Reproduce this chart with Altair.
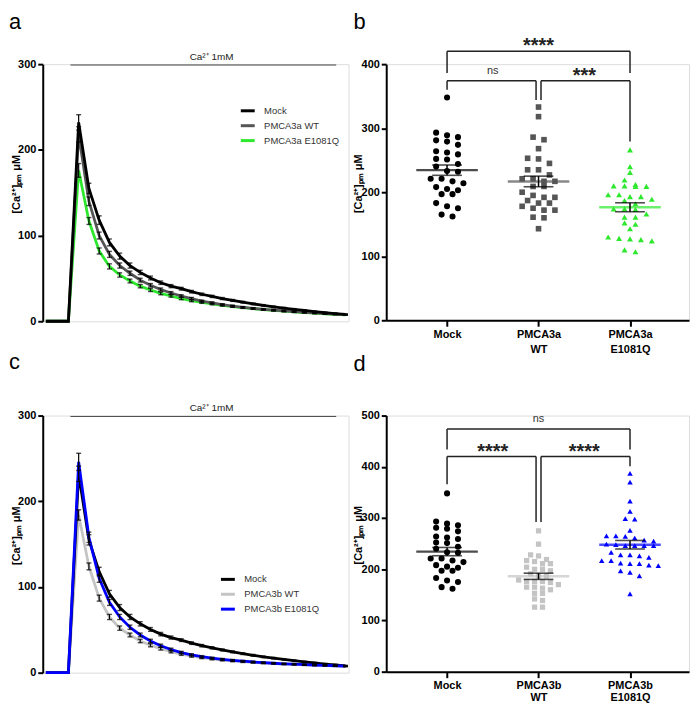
import altair as alt
import pandas as pd

FONT = "Liberation Sans"

# ---------------- time-course data (panels a, c) ----------------
TIME = [-3.2, -1, 0, 1, 2, 3, 4, 5, 6, 7, 8, 9, 10, 11, 12, 13, 14, 15, 16,
        17, 18, 19, 20, 21, 22, 23, 24, 25, 26]

MOCK_TRACE = [0, 0, 232, 155, 118, 92, 76, 65, 57, 50.5, 45, 41, 38, 34.5, 31.5,
              29, 26.5, 24.3, 22.2, 20.3, 18.5, 16.9, 15.4, 14, 12.6, 11.3, 10.1, 9, 8]
MOCK_SEM = [None, None, 9, 6, 5, 4, 3.5, 3, 2.5, 2.2, 2, 1.8, 1.6, 1.5, 1.4, 1.3,
            1.2, 1.1, 1, 1, 0.9, 0.9, 0.8, 0.8, 0.8, 0.7, 0.7, 0.7, 0.6]

WT3A_TRACE = [0, 0, 218, 140, 100, 78, 65, 56, 48, 42, 37, 33, 29.5, 26.5, 23.5,
              21.5, 19.5, 17.8, 16.3, 15, 14, 13, 12.1, 11.2, 10.4, 9.7, 9, 8.4, 7.8]
WT3A_SEM = [None, None, 9, 5, 4, 3.5, 3, 2.5, 2.2, 2, 1.8, 1.6, 1.4, 1.3, 1.2, 1.1,
            1, 1, 0.9, 0.9, 0.8, 0.8, 0.7, 0.7, 0.7, 0.6, 0.6, 0.6, 0.5]

E3A_TRACE = [0, 0, 176, 117, 82, 64, 54, 47, 41, 36.5, 32.5, 29.5, 26.5, 24, 22,
             20.2, 18.6, 17.2, 15.9, 14.7, 13.6, 12.6, 11.7, 10.9, 10.1, 9.4, 8.7, 8.1, 7.5]
E3A_SEM = [None, None, 8, 4, 3.5, 3, 2.5, 2.2, 2, 1.8, 1.6, 1.4, 1.3, 1.2, 1.1, 1,
           1, 0.9, 0.9, 0.8, 0.8, 0.7, 0.7, 0.7, 0.6, 0.6, 0.6, 0.5, 0.5]

WT3B_TRACE = [0, 0, 184, 124, 87, 65, 52, 44, 37, 32, 28, 24.5, 21.5, 19.3, 17.5,
              16, 14.8, 13.7, 12.8, 12, 11.3, 10.7, 10.1, 9.6, 9.1, 8.7, 8.3, 7.9, 7.5]
WT3B_SEM = [None, None, 6, 4, 3.5, 3, 2.5, 2.2, 2, 1.8, 1.6, 1.4, 1.3, 1.2, 1.1, 1,
            1, 0.9, 0.9, 0.8, 0.8, 0.7, 0.7, 0.7, 0.6, 0.6, 0.6, 0.5, 0.5]

E3B_TRACE = [0, 0, 246, 158, 110, 82, 65, 53, 44, 37, 31.5, 27, 23.5, 20.8, 18.7,
             17, 15.6, 14.4, 13.4, 12.5, 11.7, 11, 10.4, 9.9, 9.4, 8.9, 8.5, 8.1, 7.7]
E3B_SEM = [None, None, 10, 6, 4.5, 3.5, 3, 2.5, 2.2, 2, 1.8, 1.6, 1.4, 1.3, 1.2,
           1.1, 1, 1, 0.9, 0.9, 0.8, 0.8, 0.7, 0.7, 0.7, 0.6, 0.6, 0.6, 0.5]

NAMES_A = ["Mock", "PMCA3a WT", "PMCA3a E1081Q"]
NAMES_C = ["Mock", "PMCA3b WT", "PMCA3b E1081Q"]
COLORS_A = ["#000000", "#555555", "#2ee82e"]
COLORS_C = ["#000000", "#c4c4c4", "#0000ff"]

CA_LABEL = "Ca²⁺ 1mM"
CA_START, CA_END, CA_LEVEL = -0.8, 25.1, 299

Y_TITLE = "[Ca²⁺]ₚₘ μM"

# ---------------- scatter data (panels b, d) ----------------
CATS_B = ["Mock", "PMCA3a|WT", "PMCA3a|E1081Q"]
CATS_D = ["Mock", "PMCA3b|WT", "PMCA3b|E1081Q"]

MOCK_PTS = [348, 293, 289, 286, 281, 279, 274, 264, 262, 259, 252, 251, 244, 240,
            233, 232, 221, 221, 217, 214, 208, 205, 203, 197, 197, 183, 178, 175,
            165, 162]
WT3A_PTS = [333, 318, 286, 282, 268, 253, 252, 245, 235, 235, 227, 221, 221, 217,
            217, 209, 209, 200, 195, 192, 192, 187, 183, 183, 178, 175, 172, 172,
            161, 160, 143]
E3A_PTS = [266, 240, 231, 219, 212, 210, 210, 209, 209, 196, 196, 193, 193, 189,
           187, 182, 174, 174, 173, 166, 161, 161, 152, 150, 143, 130, 128, 127,
           126, 124, 110, 107]
WT3B_PTS = [275, 249, 228, 226, 219, 217, 215, 211, 211, 204, 200, 200, 197, 191,
            187, 187, 179, 176, 176, 176, 174, 170, 165, 165, 163, 160, 153, 153,
            142, 139, 126, 126]
E3B_PTS = [387, 370, 333, 313, 299, 298, 276, 265, 265, 264, 261, 257, 255, 249,
           248, 246, 246, 246, 246, 233, 228, 228, 226, 223, 217, 217, 212, 211,
           211, 208, 207, 197, 194, 187, 152]

# significance brackets: (x, x2, y, y2) in category units / data values
BRACKETS_B = [
    (0, 2, 420, 420), (0, 0, 420, 386), (2, 2, 420, 386),
    (0, 0.973, 374, 374), (0, 0, 374, 360), (0.973, 0.973, 374, 344),
    (1.027, 2, 374, 374), (1.027, 1.027, 374, 344), (2, 2, 374, 279),
]
STARS_B = [(1, 420, "****"), (1.5, 374, "***")]
NS_B = [(0.5, 374, "ns")]

BRACKETS_D = [
    (0, 2, 474, 474), (0, 0, 474, 434), (2, 2, 474, 434),
    (0, 0.973, 420, 420), (0, 0, 420, 366), (0.973, 0.973, 420, 292),
    (1.027, 2, 420, 420), (1.027, 1.027, 420, 292), (2, 2, 420, 401),
]
STARS_D = [(0.5, 420, "****"), (1.5, 420, "****")]
NS_D = [(1, 474, "ns")]

# ---------------- layout constants ----------------
TW, TH = 308, 259       # trace panels
SW, SH = 305, 258       # scatter panels
X_DOMAIN = [-3.5, 26.3]
S_DOMAIN = [-0.665, 2.645]


def y_axis(values, height, title_x):
    return alt.Axis(values=values, title=Y_TITLE, grid=False,
                    domainColor="black", domainWidth=2, tickColor="black",
                    tickWidth=2, tickSize=5, labelFont=FONT, labelFontWeight="bold",
                    labelFontSize=11, labelColor="black", labelPadding=2,
                    titleFont=FONT, titleFontWeight="bold", titleFontSize=11,
                    titleColor="black", titleAngle=270, titleAlign="center",
                    titleBaseline="alphabetic", titleX=title_x, titleY=height / 2 - 9)


def letter_layer(letter, x, y):
    return alt.Chart(alt.Data(values=[{"s": letter}])).mark_text(
        align="left", baseline="alphabetic", fontSize=22, font=FONT, color="black"
    ).encode(x=alt.value(x), y=alt.value(y), text="s:N")


def trace_panel(names, series, sems, colors, draw_order, letter, letter_y, lx, ly):
    rows = []
    for name, vals, errs in zip(names, series, sems):
        for t, v, e in zip(TIME, vals, errs):
            rows.append({"t": t, "v": v, "series": name,
                         "lo": None if e is None else v - e,
                         "hi": None if e is None else v + e})
    df = pd.DataFrame(rows)
    xs = alt.Scale(domain=X_DOMAIN, nice=False, zero=False)
    ys = alt.Scale(domain=[0, 300], nice=False)
    yax = y_axis([0, 100, 200, 300], TH, -23)
    color = alt.Color("series:N", scale=alt.Scale(domain=names, range=colors),
                      legend=alt.Legend(title=None, orient="none", legendX=lx, legendY=ly,
                                        symbolType="stroke", symbolStrokeWidth=3,
                                        symbolSize=196, labelFont=FONT, labelFontSize=9.5,
                                        labelColor="#333", rowPadding=0, labelOffset=8,
                                        padding=0))
    base = alt.Chart(df)
    X = alt.X("t:Q", scale=xs, axis=None)
    layers = []
    for name in draw_order:
        layers.append(base.transform_filter(alt.datum.series == name).mark_line(
            strokeWidth=2.8).encode(x=X, y=alt.Y("v:Q", scale=ys, axis=yax), color=color))
    err = base.transform_filter("isValid(datum.lo)")
    layers.append(err.mark_rule(color="black", strokeWidth=1.2).encode(
        x=X, y=alt.Y("lo:Q", scale=ys, axis=yax), y2="hi:Q"))
    for fld in ["lo", "hi"]:
        layers.append(err.mark_tick(color="black", orient="horizontal", size=5,
                                    thickness=1.4).encode(
            x=X, y=alt.Y(f"{fld}:Q", scale=ys, axis=yax)))
    ca = pd.DataFrame({"t": [CA_START], "t2": [CA_END], "v": [CA_LEVEL],
                       "tm": [(CA_START + CA_END) / 2 + 0.8], "s": [CA_LABEL]})
    layers.append(alt.Chart(ca).mark_rule(color="#444", strokeWidth=1).encode(
        x=X, x2="t2:Q", y=alt.Y("v:Q", scale=ys, axis=yax)))
    layers.append(alt.Chart(ca).mark_text(font=FONT, fontSize=10, color="#222",
                                          baseline="alphabetic", dy=-5).encode(
        x=alt.X("tm:Q", scale=xs, axis=None), y=alt.Y("v:Q", scale=ys, axis=yax),
        text="s:N"))
    layers.append(letter_layer(letter, -34, letter_y))
    return alt.layer(*layers).properties(width=TW, height=TH)


def swarm_offsets(values, tol, spacing):
    order = sorted(range(len(values)), key=lambda i: -values[i])
    rows, cur = [], [order[0]]
    for i in order[1:]:
        if values[cur[0]] - values[i] <= tol:
            cur.append(i)
        else:
            rows.append(cur)
            cur = [i]
    rows.append(cur)
    offs = [0.0] * len(values)
    for r in rows:
        n = len(r)
        for k, i in enumerate(r):
            offs[i] = (k - (n - 1) / 2) * spacing
    return offs


def scatter_panel(cats, groups, shapes, sizes, colors, spacings, tol, ydom, brackets,
                  stars, ns, letter, letter_y, line_h):
    pxu = SW / (S_DOMAIN[1] - S_DOMAIN[0])
    xs = alt.Scale(domain=S_DOMAIN, nice=False, zero=False)
    ys = alt.Scale(domain=ydom, nice=False)
    yax = y_axis(list(range(0, ydom[1] + 1, 100)), SH, -25)
    cat_list = "[" + ",".join(f"'{c}'" for c in cats) + "]"
    xax = alt.Axis(values=[0, 1, 2], labelExpr=f"split({cat_list}[datum.value], '|')",
                   title=None, grid=False, domainColor="black", domainWidth=2,
                   tickColor="black", tickWidth=2, tickSize=6, labelFont=FONT,
                   labelFontWeight="bold", labelFontSize=11, labelColor="black",
                   labelPadding=2, labelLineHeight=line_h, labelAngle=0)
    X = alt.X("x:Q", scale=xs, axis=xax)
    layers = []
    for g, (vals, shp, sz, col, sp) in enumerate(zip(groups, shapes, sizes, colors, spacings)):
        offs = swarm_offsets(vals, tol, sp)
        df = pd.DataFrame({"x": [g + o / pxu for o in offs], "v": vals, "g": g})
        layers.append(alt.Chart(df).mark_point(filled=True, opacity=1, shape=shp, size=sz,
                                               color=col).encode(
            x=X, y=alt.Y("v:Q", scale=ys, axis=yax)))
    for g, (vals, col) in enumerate(zip(groups, colors)):
        df = pd.DataFrame({"v": vals, "g": g})
        agg = alt.Chart(df).transform_aggregate(
            m="mean(v)", se="stderr(v)", groupby=["g"]).transform_calculate(
            x="datum.g", lo="datum.m - datum.se", hi="datum.m + datum.se")
        layers.append(agg.mark_tick(orient="horizontal", size=62, thickness=2.4,
                                    color=col).encode(
            x=X, y=alt.Y("m:Q", scale=ys, axis=yax)))
        layers.append(agg.mark_rule(color="black", strokeWidth=1.5).encode(
            x=X, y=alt.Y("lo:Q", scale=ys, axis=yax), y2="hi:Q"))
        for fld in ["lo", "hi"]:
            layers.append(agg.mark_tick(orient="horizontal", size=30, thickness=1.6,
                                        color="black").encode(
                x=X, y=alt.Y(f"{fld}:Q", scale=ys, axis=yax)))
    bdf = pd.DataFrame(brackets, columns=["x", "x2", "v", "v2"])
    layers.append(alt.Chart(bdf).mark_rule(color="#222", strokeWidth=1.5).encode(
        x=X, x2="x2:Q", y=alt.Y("v:Q", scale=ys, axis=yax), y2="v2:Q"))
    sdf = pd.DataFrame(stars, columns=["x", "v", "s"])
    layers.append(alt.Chart(sdf).mark_text(font=FONT, fontSize=20, fontWeight="bold",
                                           baseline="alphabetic", dy=1, color="#222").encode(
        x=X, y=alt.Y("v:Q", scale=ys, axis=yax), text="s:N"))
    ndf = pd.DataFrame(ns, columns=["x", "v", "s"])
    layers.append(alt.Chart(ndf).mark_text(font=FONT, fontSize=11, baseline="alphabetic",
                                           dy=-7, color="#333").encode(
        x=X, y=alt.Y("v:Q", scale=ys, axis=yax), text="s:N"))
    layers.append(letter_layer(letter, -33, letter_y))
    return alt.layer(*layers).properties(width=SW, height=SH)


pa = trace_panel(NAMES_A, [MOCK_TRACE, WT3A_TRACE, E3A_TRACE],
                 [MOCK_SEM, WT3A_SEM, E3A_SEM], COLORS_A,
                 ["PMCA3a E1081Q", "PMCA3a WT", "Mock"], "a", -35.5, 198, 38.5)
pc = trace_panel(NAMES_C, [MOCK_TRACE, WT3B_TRACE, E3B_TRACE],
                 [MOCK_SEM, WT3B_SEM, E3B_SEM], COLORS_C,
                 ["PMCA3b WT", "Mock", "PMCA3b E1081Q"], "c", -47, 178, 156.5)
pb = scatter_panel(CATS_B, [MOCK_PTS, WT3A_PTS, E3A_PTS],
                   ["circle", "square", "triangle-up"], [38, 32, 36],
                   ["#000000", "#555555", "#2ee82e"], [11, 11, 11], 8.5, [0, 400],
                   BRACKETS_B, STARS_B, NS_B, "b", -35.5, 15)
pd_ = scatter_panel(CATS_D, [MOCK_PTS, WT3B_PTS, E3B_PTS],
                    ["circle", "square", "triangle-up"], [38, 28, 30],
                    ["#000000", "#c4c4c4", "#0000ff"], [11, 8, 9.5], 10.7, [0, 500],
                    BRACKETS_D, STARS_D, NS_D, "d", -45, 12)

chart = alt.concat(pa, pb, pc, pd_, columns=2, spacing={"row": 95, "column": 38},
                   bounds="flush").resolve_scale(
    x="independent", y="independent", color="independent").properties(
    padding={"left": 0, "top": 0, "right": 0, "bottom": 0}).configure_view(
    stroke=None).configure(font=FONT)

chart.save("out.html", embed_options={"renderer": "svg", "actions": False})
